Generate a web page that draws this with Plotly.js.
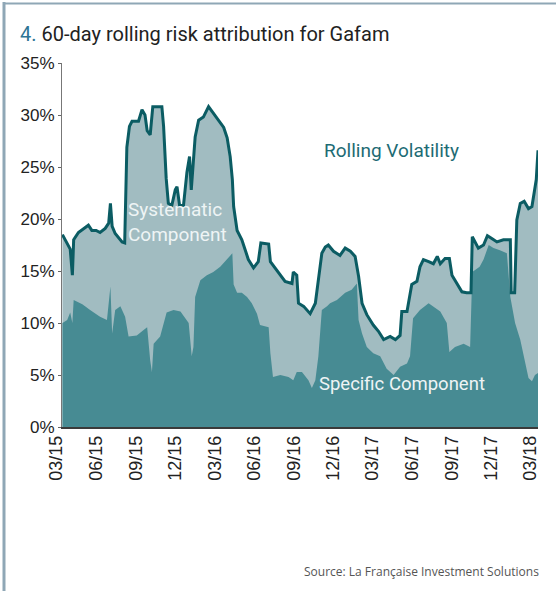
<!DOCTYPE html>
<html>
<head>
<meta charset="utf-8">
<script src="https://cdn.plot.ly/plotly-3.0.1.min.js"></script>
<style>
  html, body { margin: 0; padding: 0; background: #ffffff; }
  #chart { width: 556px; height: 591px; }
</style>
</head>
<body>
<div id="chart"></div>
<script>
// ---- Data (values in %) ----
const volDates = [
  "2015-03-15","2015-03-26","2015-04-02","2015-04-07","2015-04-10","2015-04-21","2015-05-03","2015-05-14","2015-05-22","2015-06-01",
  "2015-06-10","2015-06-22","2015-06-30","2015-07-04","2015-07-08","2015-07-15","2015-07-31","2015-08-06","2015-08-11","2015-08-17",
  "2015-08-23","2015-09-07","2015-09-15","2015-09-22","2015-09-27","2015-10-04","2015-10-10","2015-10-31","2015-11-04","2015-11-10",
  "2015-11-15","2015-11-23","2015-12-01","2015-12-05","2015-12-11","2015-12-20","2015-12-28","2016-01-03","2016-01-07","2016-01-12",
  "2016-01-16","2016-01-24","2016-02-04","2016-02-16","2016-02-27","2016-03-10","2016-03-22","2016-03-30","2016-04-06","2016-04-11",
  "2016-04-14","2016-04-22","2016-05-03","2016-05-11","2016-05-18","2016-05-30","2016-06-10","2016-06-16","2016-07-04","2016-07-08",
  "2016-07-19","2016-07-31","2016-08-11","2016-08-27","2016-08-30","2016-09-07","2016-09-11","2016-09-23","2016-10-08","2016-10-20",
  "2016-10-27","2016-11-04","2016-11-12","2016-11-19","2016-12-01","2016-12-16","2016-12-28","2017-01-09","2017-01-20","2017-01-28",
  "2017-02-05","2017-02-16","2017-03-03","2017-03-15","2017-03-27","2017-04-11","2017-04-23","2017-05-04","2017-05-08","2017-05-20",
  "2017-05-31","2017-06-12","2017-06-19","2017-06-27","2017-07-09","2017-07-20","2017-07-29","2017-08-05","2017-08-16","2017-08-26",
  "2017-09-01","2017-09-12","2017-09-24","2017-10-05","2017-10-15","2017-10-18","2017-10-24","2017-11-01","2017-11-13","2017-11-22",
  "2017-12-03","2017-12-14","2017-12-29","2018-01-14","2018-01-16","2018-01-24","2018-01-29","2018-02-06","2018-02-15","2018-02-25",
  "2018-03-05","2018-03-10","2018-03-15","2018-03-19"
];
const rollingVol = [
  18.5,17.7,17.1,14.6,18.0,18.7,19.1,19.4,18.9,18.9,
  18.7,19.1,19.6,21.5,19.3,18.6,17.8,17.7,26.9,28.9,
  29.4,29.4,30.5,30.0,28.5,28.1,30.8,30.8,28.9,23.9,
  21.5,21.3,22.8,23.1,21.3,21.3,24.5,26.0,22.8,25.5,
  27.9,29.5,29.8,30.8,30.2,29.5,28.8,27.8,26.0,23.8,
  21.2,18.9,18.0,17.0,16.1,15.3,15.9,17.7,17.6,15.9,
  15.3,14.6,14.0,13.8,14.9,14.6,11.9,11.6,10.9,11.9,
  14.1,16.7,17.3,17.5,16.9,16.5,17.2,16.9,16.4,14.5,
  11.9,10.8,9.8,9.2,8.4,8.7,8.4,8.8,11.1,11.1,
  13.7,14.0,15.4,16.1,15.9,15.7,16.4,15.7,16.2,16.2,
  14.6,13.8,13.0,12.9,12.9,18.3,17.8,17.2,17.5,18.4,
  18.1,17.8,18.0,18.0,12.9,12.9,19.9,21.5,21.7,21.0,
  21.2,22.5,23.8,26.6
];
const specDates = [
  "2015-03-15","2015-03-26","2015-04-02","2015-04-07","2015-04-10","2015-04-21","2015-04-30","2015-05-18","2015-06-10","2015-06-26",
  "2015-07-04","2015-07-08","2015-07-15","2015-07-27","2015-08-07","2015-08-15","2015-09-03","2015-09-18","2015-09-27","2015-10-04",
  "2015-10-08","2015-10-12","2015-10-27","2015-11-11","2015-11-27","2015-12-13","2016-01-01","2016-01-08","2016-01-12","2016-01-16",
  "2016-01-28","2016-02-12","2016-02-27","2016-03-14","2016-03-30","2016-04-06","2016-04-11","2016-04-14","2016-04-22","2016-05-03",
  "2016-05-15","2016-05-26","2016-06-07","2016-06-14","2016-07-04","2016-07-08","2016-07-14","2016-07-31","2016-08-19","2016-08-30",
  "2016-09-07","2016-09-19","2016-10-04","2016-10-12","2016-10-20","2016-10-27","2016-11-04","2016-11-16","2016-11-23","2016-12-09",
  "2016-12-28","2017-01-12","2017-01-24","2017-01-28","2017-02-05","2017-02-16","2017-03-03","2017-03-19","2017-04-03","2017-04-19",
  "2017-05-04","2017-05-20","2017-05-27","2017-06-03","2017-06-19","2017-07-09","2017-07-20","2017-08-05","2017-08-20","2017-08-26",
  "2017-09-08","2017-09-28","2017-10-13","2017-10-18","2017-11-04","2017-11-13","2017-11-25","2017-12-06","2017-12-21","2018-01-06",
  "2018-01-14","2018-01-25","2018-02-06","2018-02-17","2018-02-25","2018-03-05","2018-03-12","2018-03-19"
];
const specificComp = [
  10.0,10.3,11.0,10.0,12.2,12.0,11.8,11.25,10.6,10.3,
  13.5,9.0,11.25,11.6,10.6,8.7,8.8,9.3,9.6,6.4,
  5.3,8.0,8.7,11.0,11.25,11.1,10.0,6.8,7.7,12.5,
  14.1,14.6,14.9,15.4,16.1,16.4,16.7,13.7,12.9,12.9,
  12.5,11.9,10.9,9.8,9.6,7.1,4.8,5.0,4.8,4.5,
  5.3,5.3,4.5,3.75,4.5,6.8,11.25,11.6,11.9,12.2,
  12.9,13.2,13.8,10.3,9.0,7.7,7.1,6.8,5.6,5.0,
  5.8,6.1,6.8,10.45,11.25,11.9,11.6,11.1,10.0,7.2,
  7.7,8.0,7.7,14.9,15.4,16.1,17.5,17.2,17.0,16.7,
  12.5,10.0,8.4,6.1,4.7,4.4,5.0,5.2
];
const tickDates = ["2015-03-15","2015-06-15","2015-09-15","2015-12-15","2016-03-15","2016-06-15","2016-09-15",
                   "2016-12-15","2017-03-15","2017-06-15","2017-09-15","2017-12-15","2018-03-15"];
const tickLabels = ["03/15","06/15","09/15","12/15","03/16","06/16","09/16","12/16","03/17","06/17","09/17","12/17","03/18"];
const yTicks = [0,5,10,15,20,25,30,35];
const yTickLabels = ["0%","5%","10%","15%","20%","25%","30%","35%"];

const titleText = "4.";
const titleRest = " 60-day rolling risk attribution for Gafam";
const labelVol = "Rolling Volatility";
const labelSys = "Systematic<br>Component";
const labelSpec = "Specific Component";
const sourceText = "Source: La Française Investment Solutions";

// ---- Styles ----
const cLight = "#a1bcc1";
const cDark = "#478b93";
const cLine = "#0b5c63";
const cBorder = "#8fa7b6";

const traces = [
  { x: volDates, y: rollingVol, type: "scatter", mode: "lines", fill: "tozeroy",
    fillcolor: cLight, line: { width: 0, color: cLight }, hoverinfo: "skip" },
  { x: specDates, y: specificComp, type: "scatter", mode: "lines", fill: "tozeroy",
    fillcolor: cDark, line: { width: 0, color: cDark }, hoverinfo: "skip" },
  { x: volDates, y: rollingVol, type: "scatter", mode: "lines",
    line: { width: 3, color: cLine }, hoverinfo: "skip" }
];

const layout = {
  width: 556, height: 591,
  margin: { l: 62, r: 18, t: 63, b: 164 },
  paper_bgcolor: "#ffffff", plot_bgcolor: "#ffffff",
  showlegend: false,
  title: {
    text: "<span style='color:#2e7595'>" + titleText + "</span>" + titleRest,
    font: { family: "Roboto, sans-serif", size: 20, color: "#222222" },
    x: 20 / 556, xanchor: "left", xref: "container",
    y: 1 - 34 / 591, yanchor: "middle", yref: "container"
  },
  xaxis: {
    type: "date",
    range: ["2015-03-14", "2018-03-19"],
    tickvals: tickDates, ticktext: tickLabels,
    tickangle: -90, ticks: "", ticklabelshift: -6,
    tickfont: { family: "Liberation Sans, Arial, sans-serif", size: 18, color: "#222222" },
    showgrid: false, zeroline: false,
    showline: true, linecolor: "#3a3a3a", linewidth: 1.5
  },
  yaxis: {
    range: [0, 35],
    tickvals: yTicks, ticktext: yTickLabels,
    ticks: "outside", ticklen: 3, tickcolor: "#666666",
    tickfont: { family: "Liberation Sans, Arial, sans-serif", size: 17, color: "#222222" },
    showgrid: false, zeroline: false,
    showline: true, linecolor: "#777777", linewidth: 1
  },
  annotations: [
    { text: labelVol, xref: "paper", yref: "paper", x: (322 - 62) / 476, y: (427 - 150) / 364,
      xanchor: "left", yanchor: "middle", showarrow: false,
      font: { family: "Roboto, sans-serif", size: 19, color: "#1d6b74" } },
    { text: labelSys, xref: "paper", yref: "paper", x: (126 - 62) / 476, y: (427 - 222) / 364,
      xanchor: "left", yanchor: "middle", align: "left", showarrow: false,
      font: { family: "Roboto, sans-serif", size: 19, color: "#eef4f5" } },
    { text: labelSpec, xref: "paper", yref: "paper", x: (317 - 62) / 476, y: (427 - 384) / 364,
      xanchor: "left", yanchor: "middle", showarrow: false,
      font: { family: "Roboto, sans-serif", size: 18.5, color: "#eef4f5" } },
    { text: sourceText, xref: "paper", yref: "paper", x: (541 - 62) / 476, y: (427 - 571) / 364,
      xanchor: "right", yanchor: "middle", showarrow: false,
      font: { family: "Open Sans, sans-serif", size: 12, color: "#555555" } }
  ],
  shapes: [
    { type: "line", xref: "paper", yref: "paper",
      x0: (4 - 62) / 476, x1: (4 - 62) / 476, y0: (427 - 2) / 364, y1: (427 - 591) / 364,
      line: { color: cBorder, width: 3 } },
    { type: "line", xref: "paper", yref: "paper",
      x0: (3 - 62) / 476, x1: (556 - 62) / 476, y0: (427 - 3.5) / 364, y1: (427 - 3.5) / 364,
      line: { color: cBorder, width: 2 } }
  ]
};

Plotly.newPlot("chart", traces, layout, { displayModeBar: false, staticPlot: true });
</script>
</body>
</html>
